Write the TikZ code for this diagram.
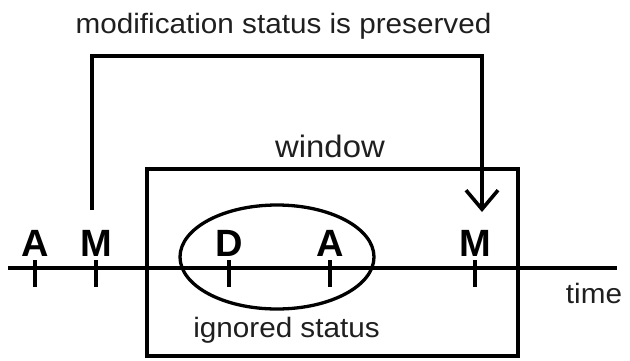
\documentclass[tikz,border=0pt]{standalone}
\usepackage{fontspec}
\setmainfont{Liberation Sans}
\newfontfamily\txtfont[FakeStretch=1.06]{Liberation Sans}
\usetikzlibrary{arrows.meta}

\begin{document}
\begin{tikzpicture}[x=1pt, y=-1pt,
		lbl/.style={anchor=base, inner sep=0pt, text=black!88, font=\txtfont\fontsize{28}{30}\selectfont},
		ev/.style={anchor=base, inner sep=0pt, font=\bfseries\fontsize{38}{40}\selectfont},
		tick/.style={line width=3.4pt}]
		\useasboundingbox (0,0) rectangle (630,360);

		% window and time axis
		\draw[line width=3.9pt] (147,169) rectangle (518,356);
		\draw[line width=3.9pt] (8,268) -- (617,268);
		\draw[line width=3.3pt] (277,257) ellipse [x radius=97, y radius=52];

		\foreach \x/\l/\n in {35/A/aL, 96/M/mL, 229/D/dW, 330/A/aW, 475/M/mR} {
			\draw[tick] (\x,260) -- (\x,287);
			\node[ev] (\n) at (\x,256) {\l};
		}

		\node[lbl] (pres) at (283.5,33) {modification status is preserved};
		\node[lbl, font=\txtfont\fontsize{31}{33}\selectfont] (win) at (330,157) {window};
		\node[lbl] (ign) at (286.5,337) {ignored status};
		\node[lbl] (time) at (594,303) {time};

		% carried over modification
		\coordinate (src) at (92,210);
		\coordinate (upper) at (290,56);
		\coordinate (dst) at (482,212);
		\draw[line width=3.6pt, -{Straight Barb[length=19pt, width=32pt]}] (src) |- (upper) -| (dst);
	\end{tikzpicture}
\end{document}
